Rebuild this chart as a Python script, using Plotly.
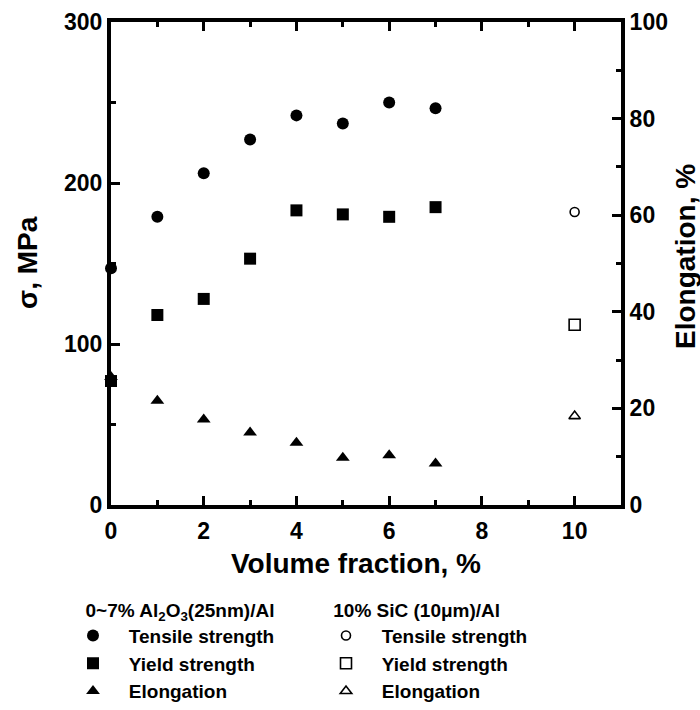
import plotly.graph_objects as go

# ---- data ----
vf_al2o3 = [0, 1, 2, 3, 4, 5, 6, 7]
tensile_al2o3 = [147, 179, 206, 227, 242, 237, 250, 246.5]
yield_al2o3 = [77, 118, 128, 153, 183, 180.5, 179, 185]
elong_al2o3 = [26.5, 21.6, 17.7, 15.0, 12.9, 9.8, 10.3, 8.6]

vf_sic = [10]
tensile_sic = [182]
yield_sic = [112]
elong_sic = [18.4]

x_ticks = [0, 2, 4, 6, 8, 10]
y_left_ticks = [0, 100, 200, 300]
y_right_ticks = [0, 20, 40, 60, 80, 100]

FONT = "Liberation Sans, Arial, sans-serif"
BLACK = "#000000"
NB = "\u00a0"

fig = go.Figure()

# Al2O3 series (filled)
fig.add_trace(go.Scatter(x=vf_al2o3, y=tensile_al2o3, mode="markers", name=NB * 3 + "Tensile strength",
                         marker=dict(symbol="circle", size=12, color=BLACK),
                         cliponaxis=False, legend="legend"))
fig.add_trace(go.Scatter(x=vf_al2o3, y=yield_al2o3, mode="markers", name=NB * 3 + "Yield strength",
                         marker=dict(symbol="square", size=12, color=BLACK),
                         cliponaxis=False, legend="legend"))
fig.add_trace(go.Scatter(x=vf_al2o3, y=elong_al2o3, mode="markers", name=NB * 3 + "Elongation",
                         marker=dict(symbol="triangle-up", size=12, color=BLACK),
                         yaxis="y2", cliponaxis=False, legend="legend"))

# SiC series (open)
fig.add_trace(go.Scatter(x=vf_sic, y=tensile_sic, mode="markers", name=NB * 3 + "Tensile strength",
                         marker=dict(symbol="circle-open", size=9, color=BLACK, line=dict(width=1.6)),
                         cliponaxis=False, legend="legend2"))
fig.add_trace(go.Scatter(x=vf_sic, y=yield_sic, mode="markers", name=NB * 3 + "Yield strength",
                         marker=dict(symbol="square-open", size=11, color=BLACK, line=dict(width=1.6)),
                         cliponaxis=False, legend="legend2"))
fig.add_trace(go.Scatter(x=vf_sic, y=elong_sic, mode="markers", name=NB * 3 + "Elongation",
                         marker=dict(symbol="triangle-up-open", size=10, color=BLACK, line=dict(width=1.6)),
                         yaxis="y2", cliponaxis=False, legend="legend2"))

tickfont = dict(family=FONT, size=23, color=BLACK, weight="bold")
legfont = dict(family=FONT, size=19, color=BLACK, weight="bold")
titlefont = dict(family=FONT, size=28, color=BLACK, weight="bold")

L, R, T, B = 111, 79, 22, 205
PW, PH = 700 - L - R, 710 - T - B

fig.update_layout(
    width=700, height=710,
    margin=dict(l=L, r=R, t=T, b=B, autoexpand=False),
    plot_bgcolor="white", paper_bgcolor="white",
    showlegend=True,
    xaxis=dict(range=[0, 11], tickvals=x_ticks, ticktext=[str(v) for v in x_ticks],
               showgrid=False, zeroline=False, showline=True, linewidth=4, linecolor=BLACK,
               mirror="ticks", ticks="inside", ticklen=9, tickwidth=3, tickcolor=BLACK,
               minor=dict(dtick=1, tick0=0, ticks="inside", ticklen=5, tickwidth=3, tickcolor=BLACK, showgrid=False),
               tickfont=tickfont, ticklabelstandoff=2),
    yaxis=dict(range=[0, 300], tickvals=y_left_ticks, ticktext=[str(v) for v in y_left_ticks],
               showgrid=False, zeroline=False, showline=True, linewidth=4, linecolor=BLACK,
               ticks="inside", ticklen=9, tickwidth=3, tickcolor=BLACK,
               minor=dict(dtick=50, tick0=0, ticks="inside", ticklen=5, tickwidth=3, tickcolor=BLACK, showgrid=False),
               tickfont=tickfont, ticklabelstandoff=0),
    yaxis2=dict(range=[0, 100], tickvals=y_right_ticks, ticktext=[str(v) for v in y_right_ticks],
                overlaying="y", side="right",
                showgrid=False, zeroline=False, showline=True, linewidth=4, linecolor=BLACK,
                ticks="inside", ticklen=9, tickwidth=3, tickcolor=BLACK,
                minor=dict(dtick=10, tick0=0, ticks="inside", ticklen=5, tickwidth=3, tickcolor=BLACK, showgrid=False),
                tickfont=tickfont, ticklabelstandoff=0),
    legend=dict(xref="container", yref="container", x=73/700, y=1 - 592/710,
                xanchor="left", yanchor="top", bgcolor="rgba(0,0,0,0)",
                title=dict(text=NB * 2 + "0~7% Al<sub>2</sub>O<sub>3</sub>(25nm)/Al", font=legfont, side="top"),
                font=legfont, itemsizing="trace", tracegroupgap=0),
    legend2=dict(xref="container", yref="container", x=326/700, y=1 - 592/710,
                 xanchor="left", yanchor="top", bgcolor="rgba(0,0,0,0)",
                 title=dict(text=NB + "10% SiC (10\u03bcm)/Al", font=legfont, side="top"),
                 font=legfont, itemsizing="trace", tracegroupgap=0),
    annotations=[
        dict(text="Volume fraction, %", xref="paper", yref="paper", x=(356 - L) / PW, y=-(563 - (T + PH)) / PH,
             xanchor="center", yanchor="middle", showarrow=False, font=titlefont),
        dict(text="\u03c3, MPa", xref="paper", yref="paper", x=-(L - 27) / PW, y=(T + PH - 263) / PH,
             textangle=-90, xanchor="center", yanchor="middle", showarrow=False, font=titlefont),
        dict(text="Elongation, %", xref="paper", yref="paper", x=1 + (685 - (L + PW)) / PW,
             y=(T + PH - 257) / PH, textangle=-90,
             xanchor="center", yanchor="middle", showarrow=False, font=titlefont),
    ],
)

fig.write_html("out.html", config={"displayModeBar": False},
               post_script="document.body.style.margin='0px';")
